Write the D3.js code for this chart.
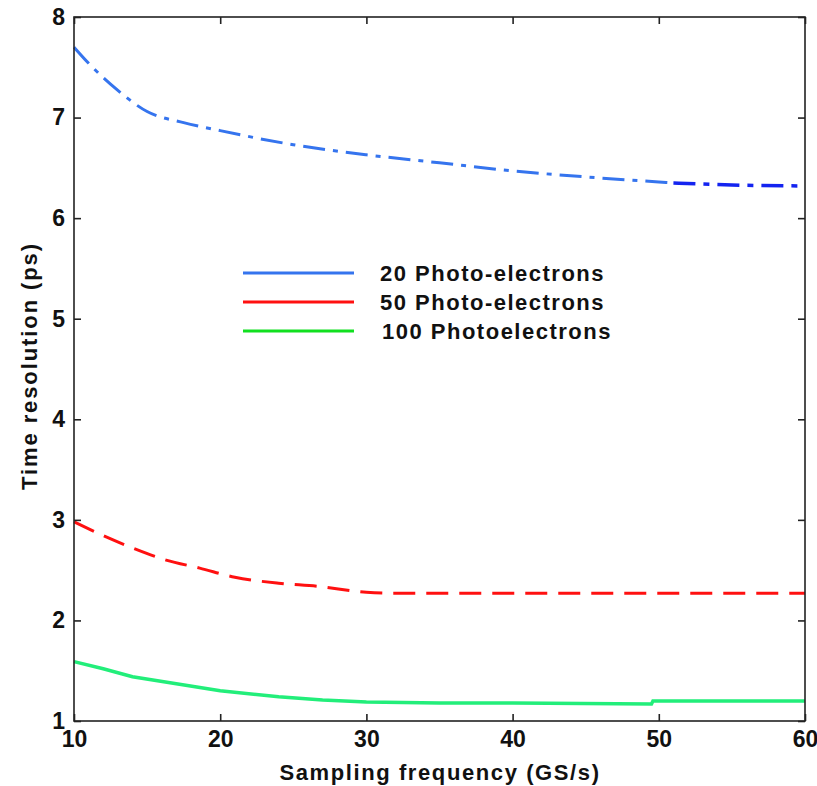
<!DOCTYPE html>
<html>
<head>
<meta charset="utf-8">
<script src="https://cdn.jsdelivr.net/npm/d3@7"></script>
<style>
  body { margin: 0; background: #fff; }
  text { font-family: "Liberation Sans", Arial, sans-serif; font-weight: bold; fill: #111; }
</style>
</head>
<body>
<div id="chart"></div>
<script>
// values
const freq20 = [10, 11, 13, 15, 17.5, 20, 25, 30, 35, 40, 45, 50, 51, 55, 60];
const pe20 = [7.70, 7.54, 7.27, 7.06, 6.95, 6.87, 6.73, 6.63, 6.55, 6.47, 6.41, 6.36, 6.35, 6.33, 6.32];
const freq50 = [10, 12.2, 14, 16.3, 18.6, 21, 24, 26.6, 30, 32, 40, 50, 60];
const pe50 = [2.98, 2.83, 2.72, 2.60, 2.52, 2.43, 2.37, 2.34, 2.28, 2.27, 2.27, 2.27, 2.27];
const freq100 = [10, 12, 14, 17, 20, 24, 27, 30, 35, 40, 49.5, 49.6, 55, 60];
const pe100 = [1.59, 1.52, 1.44, 1.37, 1.30, 1.24, 1.21, 1.19, 1.18, 1.18, 1.17, 1.20, 1.20, 1.20];
const legendLabels = ["20 Photo-electrons", "50 Photo-electrons", "100 Photoelectrons"];
const xTicks = [10, 20, 30, 40, 50, 60];
const yTicks = [1, 2, 3, 4, 5, 6, 7, 8];

const W = 817, H = 786;
const margin = { top: 17, right: 12, bottom: 65, left: 74 },
  width = W - margin.left - margin.right,
  height = H - margin.top - margin.bottom;

const svg = d3.select("#chart").append("svg")
  .attr("width", W).attr("height", H);
const g = svg.append("g").attr("transform", `translate(${margin.left},${margin.top})`);

const x = d3.scaleLinear().domain([10, 60]).range([0, width]);
const y = d3.scaleLinear().domain([1, 8]).range([height, 0]);

const rows = (xs, ys) => xs.map((f, i) => ({ x: f, y: ys[i] }));
const line = d3.line().x(d => x(d.x)).y(d => y(d.y)).curve(d3.curveMonotoneX);

// curves
const blue = rows(freq20, pe20);
g.append("path").datum(blue.filter(d => d.x <= 51))
  .attr("fill", "none").attr("stroke", "#3574ee").attr("stroke-width", 3)
  .attr("stroke-dasharray", "22,8,5,8").attr("d", line);
g.append("path").datum(blue.filter(d => d.x >= 51))
  .attr("fill", "none").attr("stroke", "#1424f0").attr("stroke-width", 3.5)
  .attr("stroke-dasharray", "22,8,6,8").attr("d", line);
g.append("path").datum(rows(freq50, pe50))
  .attr("fill", "none").attr("stroke", "#ff1010").attr("stroke-width", 3)
  .attr("stroke-dasharray", "22,11").attr("d", line);
g.append("path").datum(rows(freq100, pe100))
  .attr("fill", "none").attr("stroke", "#22ee7a").attr("stroke-width", 3.5)
  .attr("d", d3.line().x(d => x(d.x)).y(d => y(d.y)));

// box + ticks (inside, mirrored)
g.append("rect").attr("width", width).attr("height", height)
  .attr("fill", "none").attr("stroke", "#222").attr("stroke-width", 1.6);

const axStyle = (sel) => {
  sel.select(".domain").remove();
  sel.selectAll(".tick line").attr("stroke", "#222").attr("stroke-width", 1.6);
};
const labStyle = (sel) => sel.selectAll("text")
  .attr("font-size", 23).attr("font-family", "Liberation Sans, Arial")
  .attr("font-weight", "bold").attr("fill", "#111");

g.append("g").attr("transform", `translate(0,${height})`)
  .call(d3.axisBottom(x).tickValues(xTicks).tickSize(-7).tickPadding(10).tickFormat(d3.format("d")))
  .call(axStyle).call(labStyle);
g.append("g")
  .call(d3.axisTop(x).tickValues(xTicks).tickSize(-7).tickFormat(""))
  .call(axStyle);
g.append("g")
  .call(d3.axisLeft(y).tickValues(yTicks).tickSize(-7).tickPadding(9).tickFormat(d3.format("d")))
  .call(axStyle).call(labStyle);
g.append("g").attr("transform", `translate(${width},0)`)
  .call(d3.axisRight(y).tickValues(yTicks).tickSize(-7).tickFormat(""))
  .call(axStyle);

// axis titles
svg.append("text").attr("x", 440).attr("y", 780)
  .attr("text-anchor", "middle").attr("font-size", 22).attr("letter-spacing", 1.6)
  .text("Sampling frequency (GS/s)");
svg.append("text").attr("transform", `translate(37,366) rotate(-90)`)
  .attr("text-anchor", "middle").attr("font-size", 22).attr("letter-spacing", 1.9)
  .text("Time resolution (ps)");

// legend
const legendColors = ["#3574ee", "#ff1010", "#11e020"];
const legend = svg.append("g").attr("transform", "translate(243,273)");
legendLabels.forEach((lab, i) => {
  const row = legend.append("g").attr("transform", `translate(0,${i * 29})`);
  row.append("line").attr("x1", 0).attr("x2", 111).attr("stroke", legendColors[i]).attr("stroke-width", 3);
  row.append("text").attr("x", 137 + (i === 2 ? 2 : 0)).attr("y", 8)
    .attr("font-size", 22).attr("letter-spacing", 1.5).text(lab);
});
</script>
</body>
</html>
